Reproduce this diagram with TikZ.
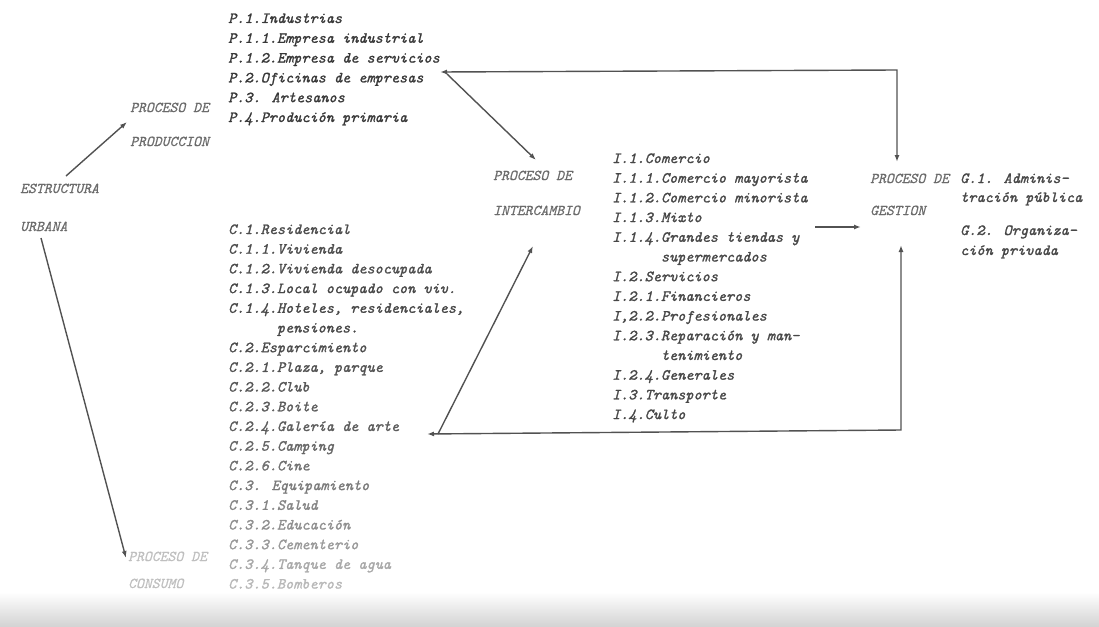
\documentclass[tikz,border=0pt]{standalone}
\usepackage{fontspec}
\newfontfamily\typ{Latin Modern Mono}[FakeBold=1.3]
\newfontfamily\typl{Latin Modern Mono}[FakeBold=0.6]
\usetikzlibrary{arrows.meta}
\begin{document}
\begin{tikzpicture}[x=1pt,y=-1pt,
  lst/.style={anchor=base west,inner sep=0pt,font=\fontsize{15.5}{18}\typ\itshape,text=#1},
  lst/.default=black!72,
  lbl/.style={anchor=base west,inner sep=0pt,font=\fontsize{15}{18}\typl\itshape,text=#1},
  lbl/.default=black!58,
  arr/.style={draw=black!68,line width=1.4pt,-{Latex[length=7pt,width=5pt]}},
  darr/.style={draw=black!68,line width=1.4pt,{Latex[length=7pt,width=5pt]}-{Latex[length=7pt,width=5pt]}}]
\useasboundingbox (0,0) rectangle (1099,626);
\shade[top color=white,bottom color=black!17] (0,592) rectangle (1099,626);

% labels
\node[lbl] (prodA) at (130,112) {PROCESO DE};
\node[lbl] (prodB) at (130,146) {PRODUCCION};
\node[lbl] (estA) at (20,193) {ESTRUCTURA};
\node[lbl] (estB) at (20,231) {URBANA};
\node[lbl] (intA) at (493,180) {PROCESO DE};
\node[lbl] (intB) at (493,215) {INTERCAMBIO};
\node[lbl] (gesA) at (870,183) {PROCESO DE};
\node[lbl] (gesB) at (870,215) {GESTION};
\node[lbl=black!25] (conA) at (128,561) {PROCESO DE};
\node[lbl=black!25] (conB) at (128,588) {CONSUMO};

% P list
\node[lst=black!78] (p1) at (228,23) {P.1.Industrias};
\node[lst=black!78] (p2) at (228,42.8) {P.1.1.Empresa industrial};
\node[lst=black!78] (p3) at (228,62.6) {P.1.2.Empresa de servicios};
\node[lst=black!78] (p4) at (228,82.4) {P.2.Oficinas de empresas};
\node[lst=black!78] (p5) at (228,102.2) {P.3. Artesanos};
\node[lst=black!78] (p6) at (228,122) {P.4.Produción primaria};

% C list
\node[lst=black!70] (c1) at (228,234) {C.1.Residencial};
\node[lst=black!70] (c2) at (228,253.7) {C.1.1.Vivienda};
\node[lst=black!70] (c3) at (228,273.4) {C.1.2.Vivienda desocupada};
\node[lst=black!72] (c4) at (228,293.1) {C.1.3.Local ocupado con viv.};
\node[lst=black!72] (c5) at (228,312.8) {C.1.4.Hoteles, residenciales,};
\node[lst=black!72] (c6) at (276.8,332.5) {pensiones.};
\node[lst=black!70] (c7) at (228,352.2) {C.2.Esparcimiento};
\node[lst=black!68] (c8) at (228,371.9) {C.2.1.Plaza, parque};
\node[lst=black!66] (c9) at (228,391.6) {C.2.2.Club};
\node[lst=black!64] (c10) at (228,411.3) {C.2.3.Boite};
\node[lst=black!64] (c11) at (228,431) {C.2.4.Galería de arte};
\node[lst=black!60] (c12) at (228,450.7) {C.2.5.Camping};
\node[lst=black!56] (c13) at (228,470.4) {C.2.6.Cine};
\node[lst=black!52] (c14) at (228,490.1) {C.3. Equipamiento};
\node[lst=black!48] (c15) at (228,509.8) {C.3.1.Salud};
\node[lst=black!44] (c16) at (228,529.5) {C.3.2.Educación};
\node[lst=black!40] (c17) at (228,549.2) {C.3.3.Cementerio};
\node[lst=black!34] (c18) at (228,568.9) {C.3.4.Tanque de agua};
\node[lst=black!28] (c19) at (228,588.6) {C.3.5.Bomberos};

% I list
\node[lst] (i1) at (612,163) {I.1.Comercio};
\node[lst] (i2) at (612,182.7) {I.1.1.Comercio mayorista};
\node[lst] (i3) at (612,202.4) {I.1.2.Comercio minorista};
\node[lst] (i4) at (612,222.1) {I.1.3.Mixto};
\node[lst] (i5) at (612,241.8) {I.1.4.Grandes tiendas y};
\node[lst] (i6) at (660.8,261.5) {supermercados};
\node[lst] (i7) at (612,281.2) {I.2.Servicios};
\node[lst] (i8) at (612,300.9) {I.2.1.Financieros};
\node[lst] (i9) at (612,320.6) {I,2.2.Profesionales};
\node[lst] (i10) at (612,340.3) {I.2.3.Reparación y man-};
\node[lst] (i11) at (660.8,360) {tenimiento};
\node[lst] (i12) at (612,379.7) {I.2.4.Generales};
\node[lst] (i13) at (612,399.4) {I.3.Transporte};
\node[lst] (i14) at (612,419.1) {I.4.Culto};

% G list
\node[lst] (g1) at (960,183) {G.1. Adminis-};
\node[lst] (g2) at (960,202) {tración pública};
\node[lst] (g3) at (960,235) {G.2. Organiza-};
\node[lst] (g4) at (960,255) {ción privada};

% connector points
\coordinate (eS) at (66,176);
\coordinate (eP) at (127,122);
\coordinate (uS) at (41,238);
\coordinate (uC) at (126,558);
\coordinate (pj) at (440,72);
\coordinate (pk) at (897,70);
\coordinate (gtop) at (897,162);
\coordinate (pd) at (447,74);
\coordinate (itop) at (536,160);
\coordinate (cj) at (427,434);
\coordinate (ck) at (901,430);
\coordinate (gbot) at (901,245);
\coordinate (cd) at (438,434);
\coordinate (ibot) at (533,246);
\coordinate (mS) at (815,227);
\coordinate (mE) at (861,227);

\draw[arr] (eS) -- (eP);
\draw[arr] (uS) -- (uC);
\draw[darr] (pj) -- (pk) -- (gtop);
\draw[arr] (pd) -- (itop);
\draw[darr] (cj) -- (ck) -- (gbot);
\draw[arr] (cd) -- (ibot);
\draw[arr] (mS) -- (mE);
\end{tikzpicture}
\end{document}
